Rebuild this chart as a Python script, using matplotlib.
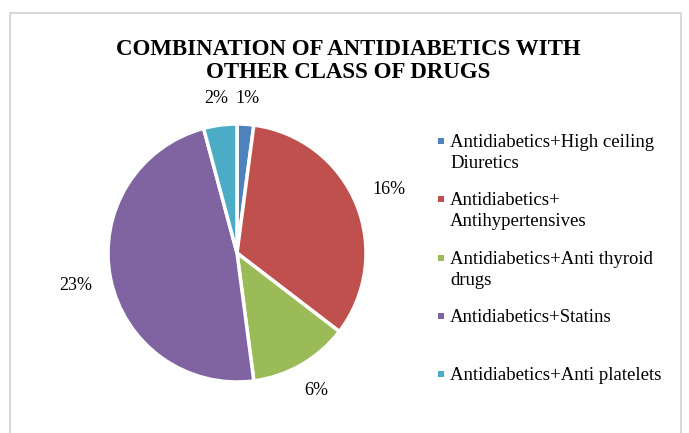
import numpy as np
import matplotlib
matplotlib.use("Agg")
import matplotlib.pyplot as plt
from matplotlib.patches import Rectangle

# combination counts, printed on the chart with a "%" sign
labels = ["Antidiabetics+High ceiling\nDiuretics",
          "Antidiabetics+\nAntihypertensives",
          "Antidiabetics+Anti thyroid\ndrugs",
          "Antidiabetics+Statins",
          "Antidiabetics+Anti platelets"]
values = [1, 16, 6, 23, 2]
colors = ["#4F81BD", "#C0504D", "#9BBB59", "#8064A2", "#4BACC6"]

plt.rcParams["font.family"] = ["Liberation Serif", "DejaVu Serif"]

W, H = 689, 433
fig = plt.figure(figsize=(W / 100, H / 100), dpi=100)

# chart frame
fig.patches.append(Rectangle((10 / W, -0.05), 671 / W, (H - 13) / H + 0.05,
                             transform=fig.transFigure, fill=False,
                             edgecolor="#D9D9D9", linewidth=1.5))

fig.text(348 / W, 1 - 61 / H, "COMBINATION OF ANTIDIABETICS WITH\nOTHER CLASS OF DRUGS",
         ha="center", va="center", fontsize=16.5, fontweight="bold", linespacing=1.12)

# pie, radius 129 px, centre at (237, 253)
R, cx, cy = 129, 237, 253
ax = fig.add_axes([(cx - R) / W, (H - cy - R) / H, 2 * R / W, 2 * R / H])
wedges, _ = ax.pie(values, colors=colors, startangle=90, counterclock=False,
                   radius=1, wedgeprops=dict(edgecolor="white", linewidth=2.5))
ax.set_xlim(-1, 1)
ax.set_ylim(-1, 1)
ax.set_aspect("equal")
ax.axis("off")

# data labels just outside each slice
fs = 13
th = 0.7 * fs * 1.39
for w, v in zip(wedges, values):
    ang = np.deg2rad((w.theta1 + w.theta2) / 2)
    c, s = np.cos(ang), np.sin(ang)
    txt = f"{v}%"
    wpx = len(txt) * 0.58 * fs * 1.39
    d = R + 19 + abs(c) * wpx / 2 + abs(s) * th / 2
    ax.text(d * c / R, d * s / R, txt, ha="center", va="center", fontsize=fs)

# legend
lfs = 13.5
tops = [141, 199, 257.5, 316, 374]
for lab, col, y in zip(labels, colors, tops):
    fig.patches.append(Rectangle((438 / W, 1 - (y + 3) / H), 6 / W, 6 / H,
                                 transform=fig.transFigure, facecolor=col, edgecolor="none"))
    fig.text(450 / W, 1 - (y - 7) / H, lab, ha="left", va="top",
             fontsize=lfs, linespacing=1.32)

fig.savefig("out.png", dpi=100)
